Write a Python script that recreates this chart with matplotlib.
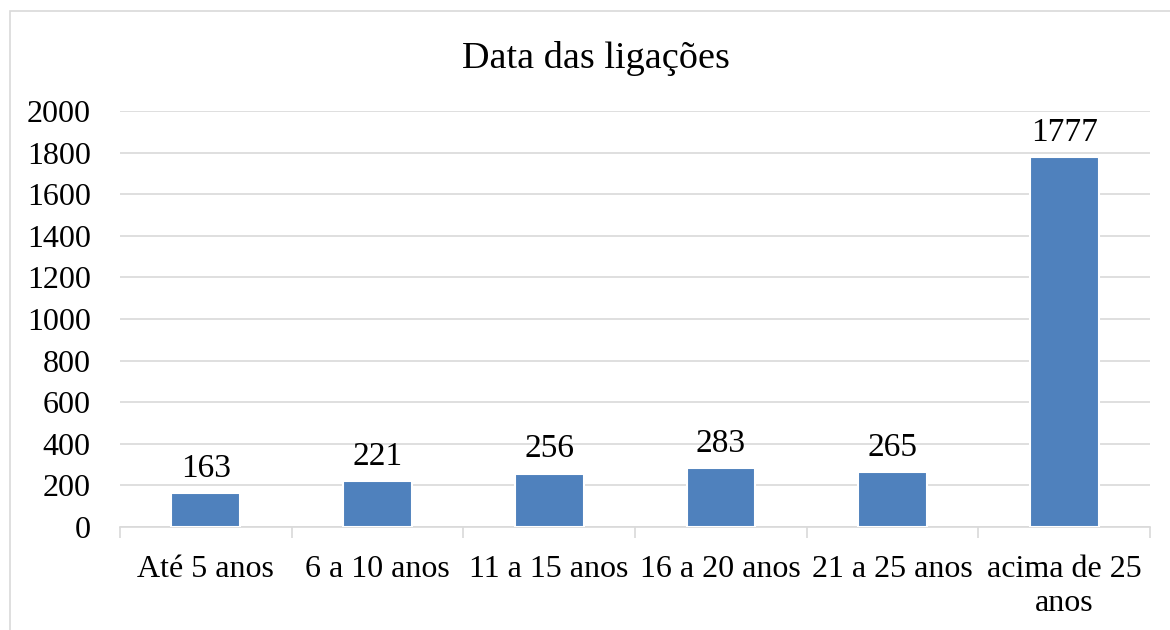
import numpy as np
import matplotlib.pyplot as plt
from matplotlib.patches import Rectangle

categorias = ['Até 5 anos', '6 a 10 anos', '11 a 15 anos', '16 a 20 anos',
              '21 a 25 anos', 'acima de 25\nanos']
valores = [163, 221, 256, 283, 265, 1777]

plt.rcParams['font.family'] = ['Liberation Serif', 'DejaVu Serif']

fig = plt.figure(figsize=(11.7, 6.3), dpi=100)
ax = fig.add_axes([120/1170, 1 - 527/630, 1030/1170, (527-111)/630])

x = np.arange(len(categorias))
ax.bar(x, valores, width=0.4, color='#4f81bd', edgecolor='white', linewidth=1.5, zorder=3)
for xi, v in zip(x, valores):
    ax.text(xi, v + 45, str(v), ha='center', va='bottom', fontsize=24)

ax.set_xlim(-0.5, len(categorias) - 0.5)
ax.set_ylim(0, 2000)
ax.set_yticks(np.arange(0, 2001, 200))
ax.tick_params(axis='y', length=0, labelsize=23, pad=21)
ax.set_xticks(x)
ax.set_xticklabels(categorias, fontsize=23, linespacing=1.25)
ax.tick_params(axis='x', length=0, pad=20)
ax.set_xticks(np.arange(-0.5, len(categorias)), minor=True)
ax.tick_params(axis='x', which='minor', length=8, color='#d9d9d9', width=1.2)
ax.grid(axis='y', color='#d9d9d9', linewidth=1.2, zorder=0)
for s in ['top', 'right', 'left']:
    ax.spines[s].set_visible(False)
ax.spines['bottom'].set_color('#d9d9d9')
ax.spines['bottom'].set_linewidth(1.2)

fig.text(596/1170, 1 - 58/630, 'Data das ligações', ha='center', va='center', fontsize=27.5)
fig.patches.append(Rectangle((10/1170, -0.1), 1.2, 1 - 11/630 + 0.1, transform=fig.transFigure,
                             fill=False, edgecolor='#d9d9d9', linewidth=1.2))

fig.savefig('out.png', dpi=100)
